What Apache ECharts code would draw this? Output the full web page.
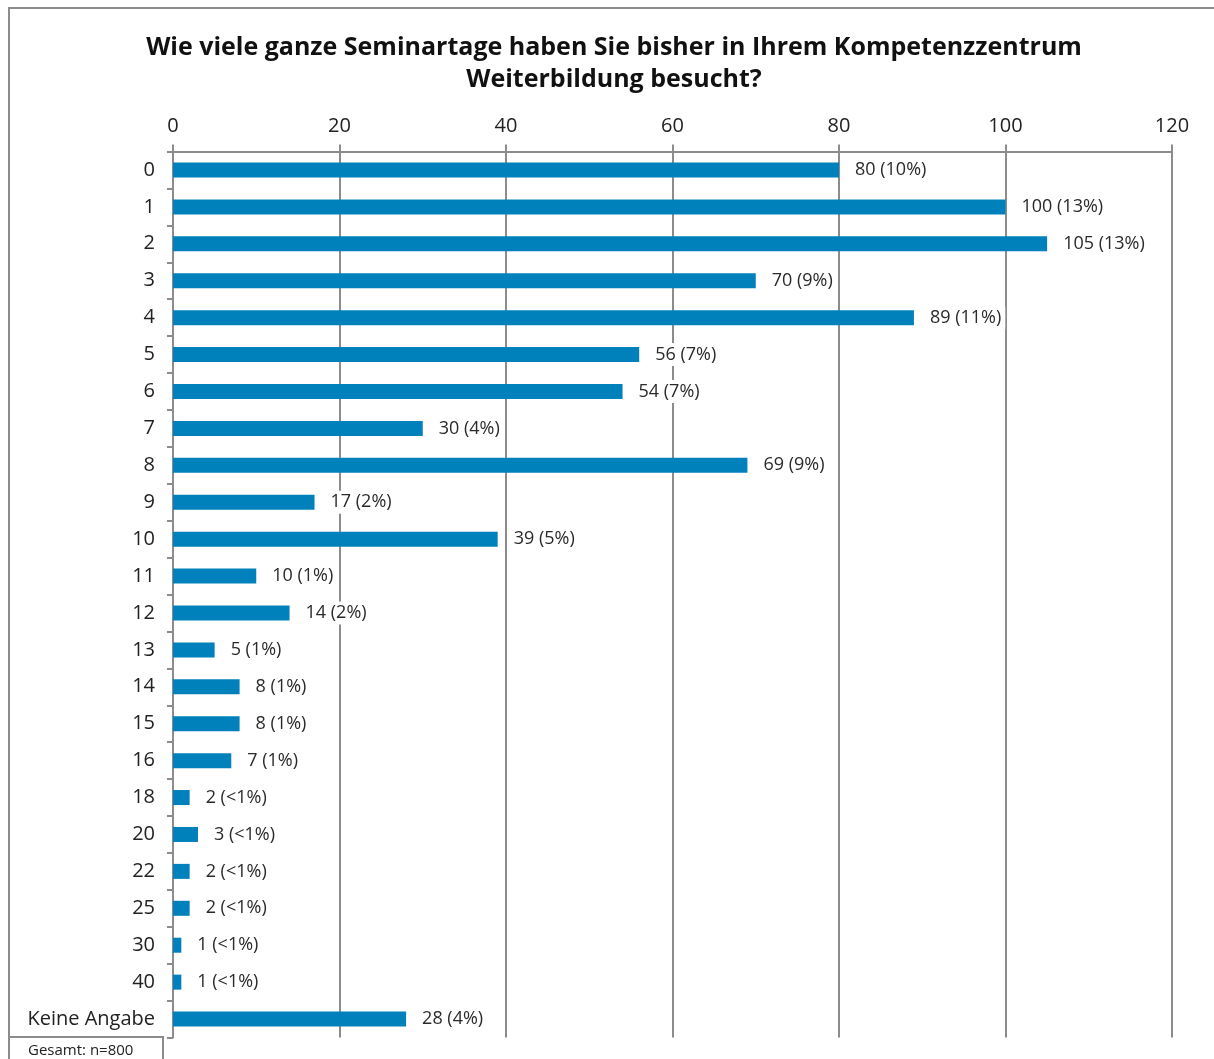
<!DOCTYPE html>
<html>
<head>
<meta charset="utf-8">
<script src="https://cdn.jsdelivr.net/npm/echarts@6/dist/echarts.min.js"></script>
<style>
  html, body { margin: 0; padding: 0; background: #fff; }
  #chart { width: 1214px; height: 1059px; }
</style>
</head>
<body>
<div id="chart"></div>
<script>
// Seminar days attended (categories, top to bottom)
const categories = ['0', '1', '2', '3', '4', '5', '6', '7', '8', '9', '10', '11', '12', '13', '14', '15', '16', '18', '20', '22', '25', '30', '40', 'Keine Angabe'];
// Number of respondents per category
const counts = [80, 100, 105, 70, 89, 56, 54, 30, 69, 17, 39, 10, 14, 5, 8, 8, 7, 2, 3, 2, 2, 1, 1, 28];
// Share of all respondents, as printed next to each bar
const shares = ['10%', '13%', '13%', '9%', '11%', '7%', '7%', '4%', '9%', '2%', '5%', '1%', '2%', '1%', '1%', '1%', '1%', '<1%', '<1%', '<1%', '<1%', '<1%', '<1%', '4%'];
const xTicks = { min: 0, max: 120, interval: 20 };
const totalNote = 'Gesamt: n=800';

const FONT = '"Open Sans", "Noto Sans", sans-serif';
const GRID_GRAY = '#8c8c8c';

const chart = echarts.init(document.getElementById('chart'), null, { renderer: 'canvas' });

chart.setOption({
  backgroundColor: '#fff',
  animation: false,
  textStyle: { fontFamily: FONT },
  title: {
    text: 'Wie viele ganze Seminartage haben Sie bisher in Ihrem Kompetenzzentrum\nWeiterbildung besucht?',
    left: 609,
    top: 27,
    textAlign: 'center',
    textStyle: { fontFamily: FONT, fontSize: 25, fontWeight: 'bold', color: '#111', lineHeight: 32 }
  },
  grid: { left: 173, right: 42, top: 151.5, bottom: 21.5, containLabel: false },
  xAxis: {
    type: 'value',
    position: 'top',
    min: xTicks.min,
    max: xTicks.max,
    interval: xTicks.interval,
    axisLine: { show: true, lineStyle: { color: GRID_GRAY, width: 2 } },
    axisTick: { show: true, length: 7, lineStyle: { color: GRID_GRAY, width: 2 } },
    axisLabel: { fontFamily: FONT, fontSize: 20, color: '#222', margin: 15 },
    splitLine: { show: true, lineStyle: { color: GRID_GRAY, width: 2 } }
  },
  yAxis: {
    type: 'category',
    inverse: true,
    data: categories,
    axisLine: { show: true, lineStyle: { color: GRID_GRAY, width: 2 } },
    axisTick: { show: true, length: 6, alignWithLabel: false, lineStyle: { color: GRID_GRAY, width: 2 } },
    axisLabel: { fontFamily: FONT, fontSize: 20, color: '#222', margin: 18, padding: [6, 0, 0, 0] }
  },
  series: [{
    type: 'bar',
    data: counts,
    barWidth: 15,
    itemStyle: { color: '#0081bb' },
    label: {
      show: true,
      position: 'right',
      distance: 12,
      fontFamily: FONT,
      fontSize: 18,
      color: '#2a2a2a',
      backgroundColor: '#fff',
      padding: [5, 4, 0, 4],
      formatter: p => p.value + ' (' + shares[p.dataIndex] + ')'
    }
  }],
  graphic: [
    {
      type: 'rect',
      shape: { x: 9, y: 8, width: 1230, height: 1080 },
      style: { fill: 'none', stroke: '#8c8c8c', lineWidth: 2 },
      silent: true,
      z: 100
    },
    {
      type: 'rect',
      shape: { x: 9, y: 1037, width: 154, height: 40 },
      style: { fill: '#fff', stroke: '#8c8c8c', lineWidth: 2 },
      silent: true,
      z: 100
    },
    {
      type: 'text',
      left: 28,
      top: 1043,
      style: { text: totalNote, fontFamily: FONT, fontSize: 15, fill: '#222' },
      silent: true,
      z: 101
    }
  ]
});
</script>
</body>
</html>
